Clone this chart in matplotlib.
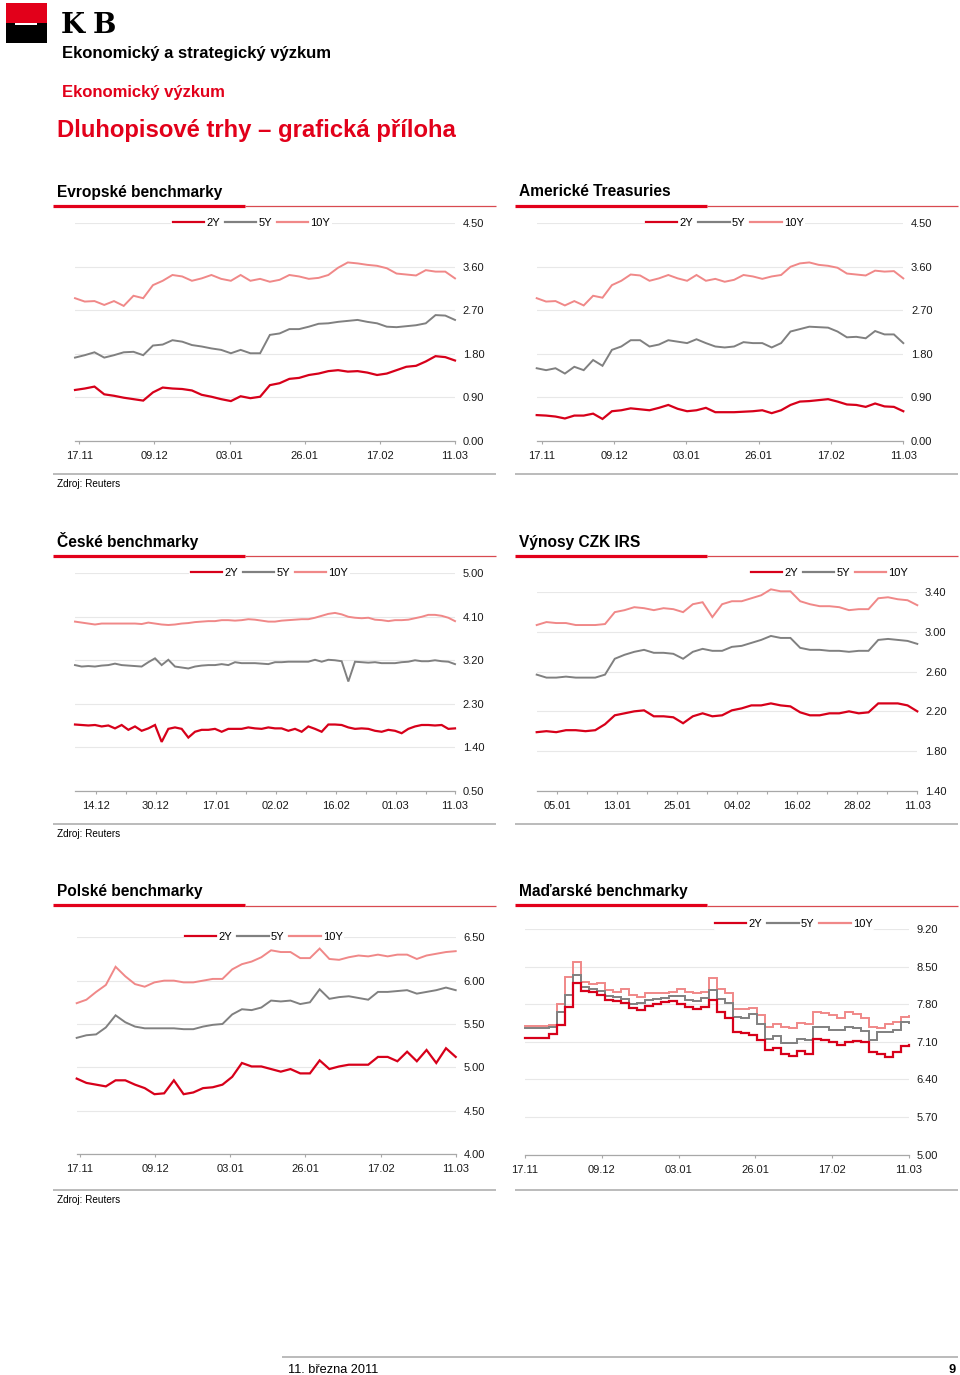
"""
Dluhopisové trhy – grafická příloha (KB, 11. března 2011)

Šest panelů s výnosy 2Y / 5Y / 10Y sestavených na jednu stranu.
"""

import matplotlib
matplotlib.use("Agg")
import matplotlib.pyplot as plt
import numpy as np
from matplotlib.lines import Line2D
from matplotlib.patches import Rectangle

plt.rcParams["font.family"] = ["Liberation Sans", "DejaVu Sans"]

W, H = 960, 1375

C_2Y = "#d7001a"
C_5Y = "#808080"
C_10Y = "#f08888"
KB_RED = "#e2001a"
LINE_GRAY = "#a8a8a8"
GRID_GRAY = "#e8e8e8"
TICK_FS = 8

# ---- Evropské benchmarky ----
eu_dates = ["17.11", "09.12", "03.01", "26.01", "17.02", "11.03"]
eu_2y = [1.05, 1.08, 1.12, 0.96, 0.93, 0.89, 0.86, 0.83, 1.00, 1.10,
         1.08, 1.07, 1.04, 0.95, 0.91, 0.86, 0.82, 0.92, 0.88, 0.91,
         1.15, 1.19, 1.28, 1.30, 1.36, 1.39, 1.44, 1.46, 1.43, 1.44,
         1.41, 1.36, 1.39, 1.46, 1.53, 1.55, 1.64, 1.75, 1.73, 1.66]
eu_5y = [1.72, 1.77, 1.83, 1.72, 1.77, 1.83, 1.84, 1.77, 1.97, 1.99,
         2.08, 2.05, 1.98, 1.95, 1.91, 1.88, 1.81, 1.88, 1.81, 1.81,
         2.19, 2.22, 2.31, 2.31, 2.36, 2.42, 2.43, 2.46, 2.48, 2.50,
         2.46, 2.43, 2.36, 2.35, 2.37, 2.39, 2.43, 2.60, 2.59, 2.50]
eu_10y = [2.95, 2.88, 2.89, 2.81, 2.89, 2.79, 3.00, 2.95, 3.22, 3.31,
          3.43, 3.40, 3.31, 3.36, 3.43, 3.35, 3.31, 3.43, 3.31, 3.35,
          3.29, 3.33, 3.43, 3.40, 3.35, 3.37, 3.43, 3.58, 3.69, 3.67,
          3.64, 3.62, 3.57, 3.46, 3.44, 3.42, 3.53, 3.50, 3.50, 3.36]
eu_yticks = [0.00, 0.90, 1.80, 2.70, 3.60, 4.50]

# ---- Americké Treasuries ----
us_dates = ["17.11", "09.12", "03.01", "26.01", "17.02", "11.03"]
us_2y = [0.53, 0.52, 0.50, 0.46, 0.52, 0.52, 0.56, 0.45, 0.61, 0.63,
         0.67, 0.65, 0.63, 0.68, 0.74, 0.66, 0.61, 0.63, 0.68, 0.59,
         0.59, 0.59, 0.60, 0.61, 0.63, 0.57, 0.63, 0.74, 0.81, 0.82,
         0.84, 0.86, 0.81, 0.75, 0.74, 0.70, 0.77, 0.71, 0.70, 0.61]
us_5y = [1.50, 1.46, 1.50, 1.39, 1.53, 1.46, 1.67, 1.55, 1.88, 1.95,
         2.08, 2.08, 1.95, 1.99, 2.08, 2.05, 2.02, 2.10, 2.02, 1.95,
         1.93, 1.95, 2.04, 2.02, 2.02, 1.93, 2.02, 2.26, 2.31, 2.36,
         2.35, 2.34, 2.26, 2.14, 2.15, 2.12, 2.27, 2.20, 2.20, 2.02]
us_10y = [2.95, 2.88, 2.89, 2.80, 2.89, 2.80, 3.00, 2.96, 3.22, 3.31,
          3.44, 3.42, 3.31, 3.36, 3.43, 3.36, 3.31, 3.43, 3.31, 3.35,
          3.29, 3.33, 3.43, 3.40, 3.35, 3.40, 3.43, 3.60, 3.67, 3.69,
          3.64, 3.62, 3.58, 3.46, 3.44, 3.42, 3.52, 3.50, 3.51, 3.36]
us_yticks = [0.00, 0.90, 1.80, 2.70, 3.60, 4.50]

# ---- České benchmarky ----
cz_dates = ["14.12", "30.12", "17.01", "02.02", "16.02", "01.03", "11.03"]
cz_2y = [1.87, 1.86, 1.85, 1.86, 1.83, 1.85, 1.79, 1.86, 1.76, 1.83,
         1.74, 1.79, 1.86, 1.51, 1.78, 1.81, 1.78, 1.60, 1.72, 1.76,
         1.76, 1.78, 1.72, 1.78, 1.78, 1.78, 1.81, 1.79, 1.78, 1.81,
         1.79, 1.79, 1.74, 1.78, 1.72, 1.83, 1.78, 1.72, 1.87, 1.87,
         1.86, 1.81, 1.78, 1.79, 1.78, 1.74, 1.72, 1.76, 1.74, 1.69,
         1.78, 1.83, 1.86, 1.86, 1.85, 1.86, 1.78, 1.79]
cz_5y = [3.10, 3.07, 3.08, 3.07, 3.09, 3.10, 3.13, 3.10, 3.09, 3.08,
         3.07, 3.16, 3.24, 3.10, 3.21, 3.07, 3.05, 3.03, 3.07, 3.09,
         3.10, 3.10, 3.12, 3.10, 3.16, 3.14, 3.14, 3.14, 3.13, 3.12,
         3.16, 3.16, 3.17, 3.17, 3.17, 3.17, 3.21, 3.17, 3.21, 3.20,
         3.18, 2.76, 3.17, 3.16, 3.15, 3.16, 3.14, 3.14, 3.14, 3.16,
         3.17, 3.20, 3.18, 3.18, 3.20, 3.18, 3.17, 3.12]
cz_10y = [4.00, 3.98, 3.96, 3.94, 3.96, 3.96, 3.96, 3.96, 3.96, 3.96,
          3.95, 3.98, 3.96, 3.94, 3.93, 3.94, 3.96, 3.97, 3.99, 4.00,
          4.01, 4.01, 4.03, 4.03, 4.02, 4.03, 4.05, 4.04, 4.02, 4.00,
          4.00, 4.02, 4.03, 4.04, 4.05, 4.05, 4.08, 4.12, 4.16, 4.18,
          4.15, 4.10, 4.08, 4.07, 4.08, 4.04, 4.03, 4.01, 4.03, 4.03,
          4.04, 4.07, 4.10, 4.14, 4.14, 4.12, 4.08, 4.01]
cz_yticks = [0.50, 1.40, 2.30, 3.20, 4.10, 5.00]

# ---- Výnosy CZK IRS ----
irs_dates = ["05.01", "13.01", "25.01", "04.02", "16.02", "28.02", "11.03"]
irs_2y = [1.99, 2.00, 1.99, 2.01, 2.01, 2.00, 2.01, 2.07, 2.16, 2.18,
          2.20, 2.21, 2.15, 2.15, 2.14, 2.08, 2.15, 2.18, 2.15, 2.16,
          2.21, 2.23, 2.26, 2.26, 2.28, 2.26, 2.25, 2.19, 2.16, 2.16,
          2.18, 2.18, 2.20, 2.18, 2.19, 2.28, 2.28, 2.28, 2.26, 2.20]
irs_5y = [2.57, 2.54, 2.54, 2.55, 2.54, 2.54, 2.54, 2.57, 2.73, 2.77,
          2.80, 2.82, 2.79, 2.79, 2.78, 2.73, 2.80, 2.83, 2.81, 2.81,
          2.85, 2.86, 2.89, 2.92, 2.96, 2.94, 2.94, 2.84, 2.82, 2.82,
          2.81, 2.81, 2.80, 2.81, 2.81, 2.92, 2.93, 2.92, 2.91, 2.88]
irs_10y = [3.07, 3.10, 3.09, 3.09, 3.07, 3.07, 3.07, 3.08, 3.20, 3.22,
           3.25, 3.24, 3.22, 3.24, 3.23, 3.20, 3.28, 3.30, 3.15, 3.28,
           3.31, 3.31, 3.34, 3.37, 3.43, 3.41, 3.41, 3.31, 3.28, 3.26,
           3.26, 3.25, 3.22, 3.23, 3.23, 3.34, 3.35, 3.33, 3.32, 3.27]
irs_yticks = [1.40, 1.80, 2.20, 2.60, 3.00, 3.40]

# ---- Polské benchmarky ----
pl_dates = ["17.11", "09.12", "03.01", "26.01", "17.02", "11.03"]
pl_2y = [4.87, 4.82, 4.80, 4.78, 4.85, 4.85, 4.80, 4.76, 4.69, 4.70,
         4.85, 4.69, 4.71, 4.76, 4.77, 4.80, 4.89, 5.05, 5.01, 5.01,
         4.98, 4.95, 4.98, 4.93, 4.93, 5.08, 4.98, 5.01, 5.03, 5.03,
         5.03, 5.12, 5.12, 5.07, 5.18, 5.07, 5.20, 5.05, 5.22, 5.12]
pl_5y = [5.34, 5.37, 5.38, 5.46, 5.60, 5.52, 5.47, 5.45, 5.45, 5.45,
         5.45, 5.44, 5.44, 5.47, 5.49, 5.50, 5.61, 5.67, 5.66, 5.69,
         5.77, 5.76, 5.77, 5.73, 5.75, 5.90, 5.79, 5.81, 5.82, 5.80,
         5.78, 5.87, 5.87, 5.88, 5.89, 5.85, 5.87, 5.89, 5.92, 5.89]
pl_10y = [5.74, 5.78, 5.87, 5.95, 6.16, 6.05, 5.96, 5.93, 5.98, 6.00,
          6.00, 5.98, 5.98, 6.00, 6.02, 6.02, 6.13, 6.19, 6.22, 6.27,
          6.35, 6.33, 6.33, 6.26, 6.26, 6.37, 6.25, 6.24, 6.27, 6.29,
          6.28, 6.30, 6.28, 6.30, 6.30, 6.25, 6.29, 6.31, 6.33, 6.34]
pl_yticks = [4.00, 4.50, 5.00, 5.50, 6.00, 6.50]

# ---- Maďarské benchmarky ----
hu_dates = ["17.11", "09.12", "03.01", "26.01", "17.02", "11.03"]
hu_2y = [7.18, 7.18, 7.18, 7.24, 7.42, 7.75, 8.19, 8.04, 8.02, 7.98,
         7.88, 7.86, 7.83, 7.73, 7.69, 7.77, 7.81, 7.85, 7.86, 7.81,
         7.75, 7.72, 7.75, 7.88, 7.65, 7.55, 7.29, 7.26, 7.23, 7.13,
         6.95, 6.99, 6.87, 6.84, 6.93, 6.88, 7.15, 7.13, 7.09, 7.05,
         7.10, 7.11, 7.09, 6.92, 6.88, 6.82, 6.92, 7.03, 7.05]
hu_5y = [7.36, 7.36, 7.36, 7.38, 7.66, 7.97, 8.34, 8.12, 8.08, 8.04,
         7.96, 7.94, 7.90, 7.81, 7.83, 7.88, 7.90, 7.92, 7.96, 7.96,
         7.88, 7.86, 7.91, 8.06, 7.90, 7.83, 7.57, 7.54, 7.61, 7.44,
         7.16, 7.21, 7.07, 7.07, 7.16, 7.13, 7.38, 7.38, 7.32, 7.32,
         7.38, 7.36, 7.30, 7.13, 7.29, 7.29, 7.32, 7.47, 7.46]
hu_10y = [7.40, 7.40, 7.40, 7.42, 7.81, 8.31, 8.58, 8.22, 8.17, 8.19,
          8.06, 8.03, 8.09, 7.98, 7.94, 8.00, 8.00, 8.00, 8.03, 8.08,
          8.03, 8.00, 8.02, 8.28, 8.09, 8.00, 7.71, 7.71, 7.73, 7.60,
          7.38, 7.44, 7.38, 7.35, 7.46, 7.44, 7.65, 7.64, 7.60, 7.55,
          7.65, 7.61, 7.54, 7.38, 7.36, 7.44, 7.47, 7.57, 7.59]
hu_yticks = [5.00, 5.70, 6.40, 7.10, 7.80, 8.50, 9.20]


def fx(x):
    return x / W


def fy(y):
    return 1 - y / H


def hline(fig, x0, x1, y, color, lw):
    fig.add_artist(Line2D([fx(x0), fx(x1)], [fy(y), fy(y)],
                          transform=fig.transFigure, color=color, lw=lw,
                          solid_capstyle="butt"))


def panel_frame(fig, left, title, title_y, rule_y, bottom_y, source):
    """Nadpis panelu, červená linka pod ním a šedá linka dole."""
    fig.text(fx(left + 4), fy(title_y), title, fontsize=11.2,
             fontweight="bold", va="baseline")
    hline(fig, left, left + 192, rule_y, KB_RED, 2.3)
    hline(fig, left + 192, left + 443, rule_y + 0.8, "#d84a50", 0.9)
    hline(fig, left, left + 443, bottom_y, LINE_GRAY, 1.1)
    if source:
        fig.text(fx(left + 4), fy(bottom_y + 10), "Zdroj: Reuters",
                 fontsize=7.2, va="center")


def plot_chart(fig, box, s2, s5, s10, xlim, xticks, xlabels, yticks,
               legend_xy, minor=None, steps=False):
    l, t, r, b = box
    ax = fig.add_axes([fx(l), fy(b), (r - l) / W, (b - t) / H])
    ds = "steps-post" if steps else "default"

    handles = []
    for vals, color, lw in ((s10, C_10Y, 1.4), (s5, C_5Y, 1.4), (s2, C_2Y, 1.6)):
        x = np.linspace(xlim[0], xlim[1], len(vals))
        line, = ax.plot(x, vals, color=color, lw=lw, drawstyle=ds,
                        solid_joinstyle="miter", clip_on=False)
        handles.append(line)
    handles = handles[::-1]

    ax.set_xlim(*xlim)
    ax.set_ylim(yticks[0], yticks[-1])
    ax.set_xticks(xticks)
    ax.set_xticklabels(xlabels)
    if minor is not None:
        ax.set_xticks(minor, minor=True)
    ax.set_yticks(yticks)
    ax.set_yticklabels([f"{v:.2f}" for v in yticks])
    ax.yaxis.tick_right()

    for side in ("top", "left", "right"):
        ax.spines[side].set_visible(False)
    ax.spines["bottom"].set_color(LINE_GRAY)
    ax.spines["bottom"].set_linewidth(0.9)

    ax.set_axisbelow(True)
    ax.yaxis.grid(True, color=GRID_GRAY, lw=0.8)
    ax.tick_params(axis="x", which="both", direction="out", length=2.5,
                   width=0.8, color=LINE_GRAY, pad=5, labelsize=TICK_FS,
                   labelcolor="#1a1a1a")
    ax.tick_params(axis="y", length=0, pad=5.5, labelsize=TICK_FS,
                   labelcolor="#1a1a1a")

    leg = ax.legend(handles, ["2Y", "5Y", "10Y"], loc="center",
                    bbox_to_anchor=(fx(legend_xy[0]), fy(legend_xy[1])),
                    bbox_transform=fig.transFigure, ncol=3, frameon=True,
                    facecolor="white", edgecolor="none", framealpha=1,
                    fontsize=TICK_FS, handlelength=2.8, handletextpad=0.2,
                    columnspacing=0.45, borderpad=0.15, borderaxespad=0)
    for h in leg.legend_handles:
        h.set_linewidth(1.6)
    return ax


fig = plt.figure(figsize=(W / 100, H / 100), dpi=100)

# ---- hlavička ----
fig.add_artist(Rectangle((fx(6), fy(23.3)), 40.7 / W, 20 / H,
                         transform=fig.transFigure, color=KB_RED, lw=0))
fig.add_artist(Rectangle((fx(6), fy(43.3)), 40.7 / W, 20 / H,
                         transform=fig.transFigure, color="black", lw=0))
fig.add_artist(Rectangle((fx(15), fy(25)), 22.3 / W, 2.2 / H,
                         transform=fig.transFigure, color="white", lw=0))
fig.text(fx(61), fy(33.3), "K", family="DejaVu Serif", fontweight="bold",
         fontsize=20, va="baseline")
fig.text(fx(93), fy(33.3), "B", family="DejaVu Serif", fontweight="bold",
         fontsize=20, va="baseline")
fig.text(fx(62), fy(58.3), "Ekonomický a strategický výzkum", fontsize=12,
         fontweight="bold", va="baseline")
fig.text(fx(62), fy(97.3), "Ekonomický výzkum", fontsize=12,
         fontweight="bold", color=KB_RED, va="baseline")
fig.text(fx(57), fy(136.5), "Dluhopisové trhy – grafická příloha",
         fontsize=17.2, fontweight="bold", color=KB_RED, va="baseline")

# ---- rámce panelů ----
panel_frame(fig, 53, "Evropské benchmarky", 196.5, 205.5, 474.3, True)
panel_frame(fig, 515, "Americké Treasuries", 196.5, 205.5, 474.3, False)
panel_frame(fig, 53, "České benchmarky", 546.7, 555.5, 824.3, True)
panel_frame(fig, 515, "Výnosy CZK IRS", 546.7, 555.5, 824.3, False)
panel_frame(fig, 53, "Polské benchmarky", 895.7, 904.7, 1190, True)
panel_frame(fig, 515, "Maďarské benchmarky", 895.7, 904.7, 1190, False)

# ---- grafy ----
plot_chart(fig, (75, 223.3, 455, 440.7), eu_2y, eu_5y, eu_10y,
           (-0.057, 5), range(6), eu_dates, eu_yticks, (251.5, 223))
plot_chart(fig, (536.7, 223.3, 903.3, 440.7), us_2y, us_5y, us_10y,
           (-0.069, 5), range(6), us_dates, us_yticks, (725, 223))
plot_chart(fig, (75, 573.3, 455, 790.7), cz_2y, cz_5y, cz_10y,
           (-0.345, 5.99), [0, 1, 2, 3, 4, 5, 5.99], cz_dates, cz_yticks,
           (269.5, 573), minor=[0.5, 1.5, 2.5, 3.5, 4.5, 5.5])
plot_chart(fig, (536.7, 592.3, 917.3, 790.7), irs_2y, irs_5y, irs_10y,
           (-0.343, 6), range(7), irs_dates, irs_yticks,
           (829.5, 573), minor=[0.5, 1.5, 2.5, 3.5, 4.5, 5.5])
plot_chart(fig, (76.7, 937.3, 455.7, 1154), pl_2y, pl_5y, pl_10y,
           (-0.044, 5), range(6), pl_dates, pl_yticks, (264, 937))
plot_chart(fig, (525, 929, 909, 1154.7), hu_2y, hu_5y, hu_10y,
           (0, 5), range(6), hu_dates, hu_yticks, (794, 924), steps=True)

# ---- patička ----
hline(fig, 282, 958, 1357, LINE_GRAY, 1.1)
fig.text(fx(288), fy(1373), "11. března 2011", fontsize=9.2, va="baseline")
fig.text(fx(956), fy(1373), "9", fontsize=9.2, fontweight="bold",
         ha="right", va="baseline")

fig.savefig("out.png", dpi=100)
